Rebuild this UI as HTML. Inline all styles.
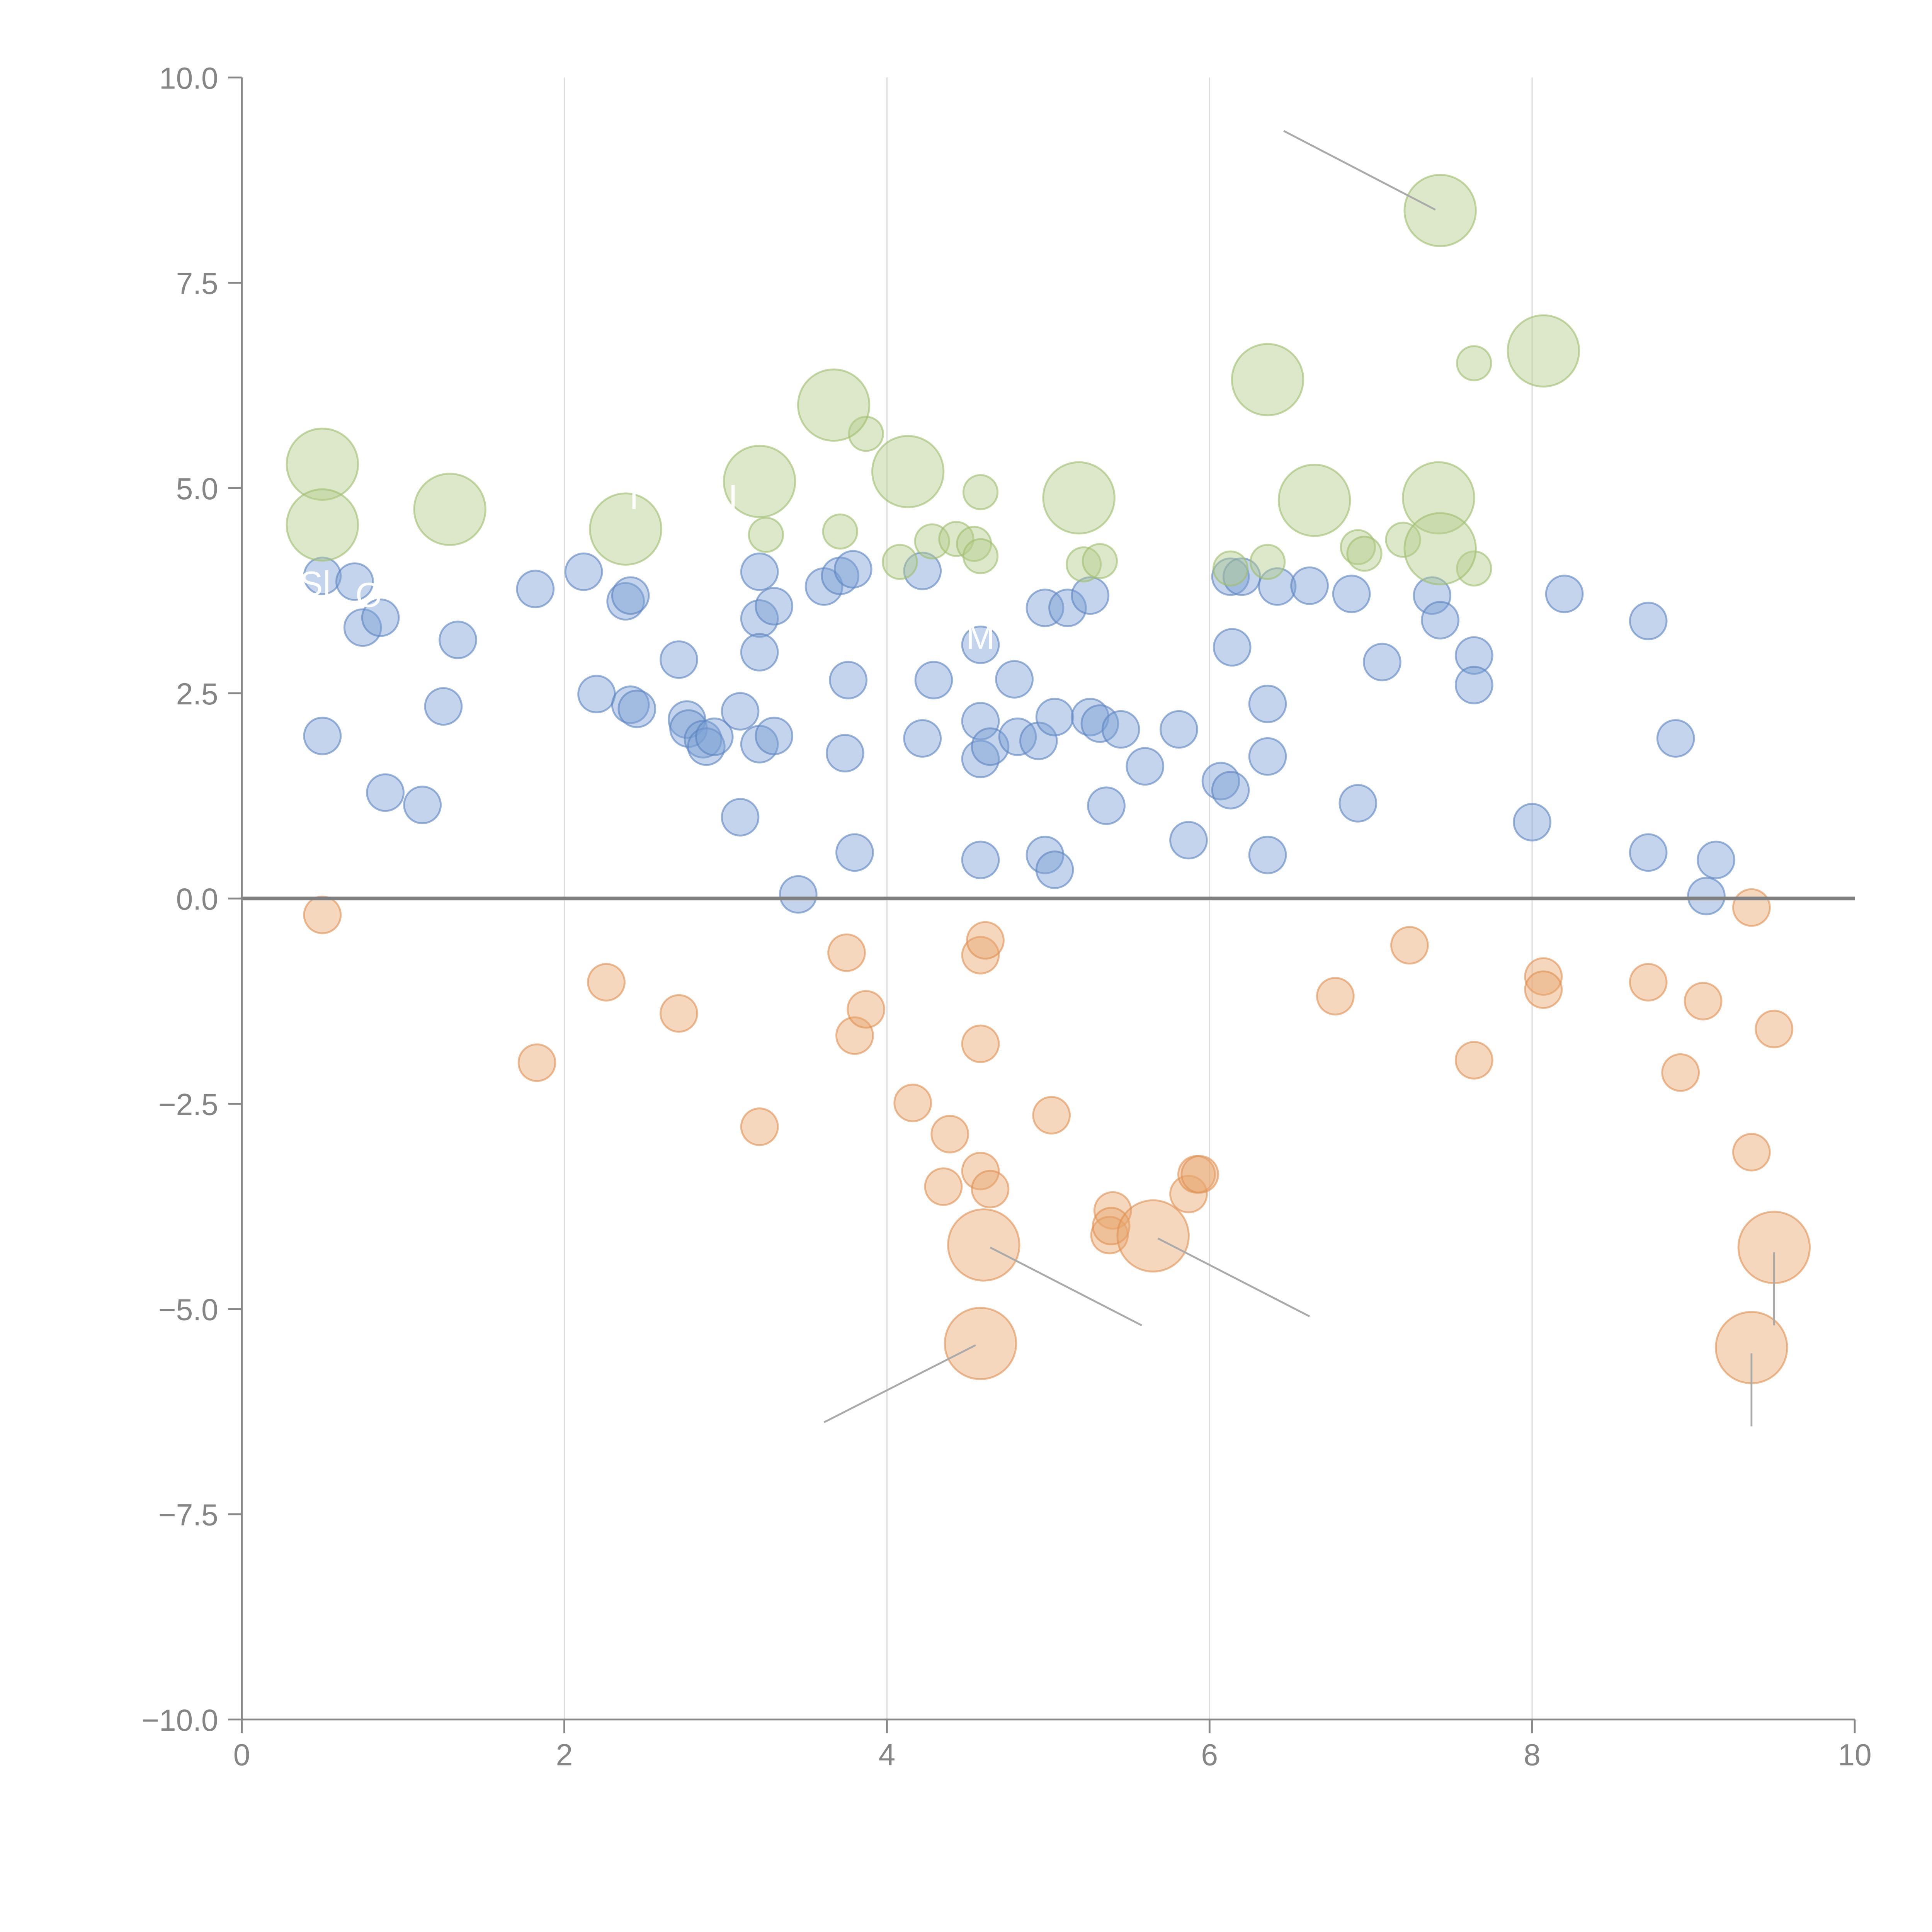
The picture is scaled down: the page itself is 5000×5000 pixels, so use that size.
<!DOCTYPE html>
<html><head><meta charset="utf-8"><style>html,body{margin:0;padding:0;background:#fff}svg{display:block}</style></head>
<body>
<svg id="chart" xmlns="http://www.w3.org/2000/svg" width="5000" height="5000" viewBox="0 0 1560 1560" font-family="Liberation Sans, Arial, sans-serif">
<g id="grid"></g>
<g id="marks"></g>
<g id="axes"></g>
</svg>
<script>
const xTicks=[0,2,4,6,8,10];
const yTicks=[-10,-7.5,-5,-2.5,0,2.5,5,7.5,10];
const blueX=[0.50,0.70,0.75,0.86,0.50,0.89,1.12,1.25,1.34,1.82,2.12,2.20,2.38,2.41,2.41,2.45,2.71,2.76,2.77,2.86,2.88,2.93,3.09,3.09,3.21,3.21,3.21,3.21,3.30,3.30,3.45,3.61,3.71,3.74,3.76,3.79,3.80,4.22,4.22,4.29,4.58,4.58,4.58,4.58,4.64,4.79,4.81,4.94,4.98,4.98,5.04,5.04,5.12,5.26,5.26,5.32,5.36,5.45,5.60,5.81,5.87,6.07,6.13,6.13,6.14,6.20,6.36,6.36,6.36,6.42,6.62,6.88,6.92,7.07,7.38,7.43,7.64,7.64,8.00,8.20,8.72,8.72,8.89,9.08,9.14];
const blueY=[3.93,3.86,3.30,3.42,1.98,1.29,1.14,2.34,3.15,3.77,3.98,2.49,3.62,3.69,2.36,2.31,2.91,2.18,2.07,1.94,1.85,1.97,2.28,0.99,3.98,3.41,3.00,1.88,3.56,1.98,0.05,3.80,3.93,1.77,2.66,4.01,0.56,3.99,1.95,2.66,3.09,2.16,1.70,0.47,1.85,2.67,1.97,1.92,3.54,0.53,0.35,2.21,3.54,3.69,2.21,2.13,1.13,2.06,1.61,2.06,0.71,1.43,1.32,3.92,3.06,3.92,2.37,1.73,0.53,3.80,3.81,3.71,1.16,2.88,3.69,3.39,2.96,2.60,0.93,3.71,3.38,0.56,1.95,0.03,0.47];
const orangeX=[0.50,1.83,2.26,2.71,3.21,3.75,3.80,3.87,4.16,4.35,4.39,4.58,4.61,4.58,4.58,4.64,5.02,5.40,5.38,5.39,5.87,5.92,5.94,6.78,7.24,7.64,8.07,8.07,8.72,8.92,9.06,9.36,9.36,9.50,4.60,4.58,5.65,9.50,9.36];
const orangeY=[-0.20,-2.00,-1.02,-1.40,-2.78,-0.66,-1.67,-1.35,-2.49,-3.51,-2.87,-0.69,-0.51,-1.77,-3.32,-3.54,-2.64,-3.80,-4.10,-3.99,-3.60,-3.36,-3.36,-1.19,-0.57,-1.97,-0.95,-1.11,-1.02,-2.12,-1.25,-0.11,-3.09,-1.59,-4.22,-5.42,-4.11,-4.25,-5.47];
const orangeSize=[1,1,1,1,1,1,1,1,1,1,1,1,1,1,1,1,1,1,1,1,1,1,1,1,1,1,1,1,1,1,1,1,1,1,2,2,2,2,2];
const greenX=[3.25,3.71,3.87,4.08,4.28,4.43,4.54,4.58,4.58,5.22,5.32,6.13,6.36,6.92,6.96,7.20,7.64,7.64,0.50,0.50,1.29,2.38,3.21,3.67,4.13,5.19,6.36,6.65,7.42,7.43,7.43,8.07];
const greenY=[4.43,4.47,5.66,4.10,4.35,4.38,4.32,4.95,4.17,4.07,4.11,4.02,4.10,4.28,4.20,4.37,6.52,4.02,5.29,4.55,4.74,4.50,5.08,6.01,5.20,4.88,6.32,4.85,4.88,4.26,8.38,6.67];
const greenSize=[1,1,1,1,1,1,1,1,1,1,1,1,1,1,1,1,1,1,2,2,2,2,2,2,2,2,2,2,2,2,2,2];
const leaderX1=[6.46,4.64,5.68,4.55,9.50,9.36];
const leaderY1=[9.35,-4.25,-4.14,-5.44,-4.31,-5.54];
const leaderX2=[7.40,5.58,6.62,3.61,9.50,9.36];
const leaderY2=[8.39,-5.20,-5.09,-6.38,-5.20,-6.43];

const X0=195.2,X1=1497.6,YT=62.6,YB=1388.4;
const sx=v=>X0+(v-0)/(10-0)*(X1-X0);
const sy=v=>YB-(v+10)/20*(YB-YT);
const NS='http://www.w3.org/2000/svg';
function mk(tag,attrs,parent){const e=document.createElementNS(NS,tag);for(const k in attrs)e.setAttribute(k,attrs[k]);parent.appendChild(e);return e;}
const grid=document.getElementById('grid'),marks=document.getElementById('marks'),axes=document.getElementById('axes');

xTicks.forEach(t=>{if(t>0&&t<10){const l=mk('line',{x1:sx(t),x2:sx(t),y1:YT,y2:YB,stroke:'#dddddd','stroke-width':1},grid);

}});

function series(xs,ys,sizes,fill,stroke,name){
  xs.forEach((x,i)=>{const r=sizes?(sizes[i]===2?28.8:(name==='green-point'?13.8:14.8)):14.8;
    const c=mk('circle',{cx:sx(x),cy:sy(ys[i]),r:r,fill:fill,'fill-opacity':0.45,stroke:stroke,'stroke-opacity':0.6,'stroke-width':1.5},marks);
    
    
  });
}
series(blueX,blueY,null,'#7b9fd4','#5b82c0','blue-point');
series(greenX,greenY,greenSize,'#b4cd8a','#9fbd6c','green-point');
series(orangeX,orangeY,orangeSize,'#e9a66e','#e09050','orange-point');

leaderX1.forEach((x,i)=>{const l=mk('line',{x1:sx(x),y1:sy(leaderY1[i]),x2:sx(leaderX2[i]),y2:sy(leaderY2[i]),stroke:'#aaaaaa','stroke-width':1.5},marks);

});

[['Sl',242,481],['O',287,490],['M',780,524],['I',508,411],['I',588,411]].forEach(d=>{const t=mk('text',{x:d[1],y:d[2],fill:'#ffffff','font-size':28},marks);t.textContent=d[0];

});

const z=mk('line',{x1:X0,x2:X1,y1:sy(0),y2:sy(0),stroke:'#808080','stroke-width':3},axes);


const ya=mk('line',{x1:X0,x2:X0,y1:YT,y2:YB,stroke:'#888888','stroke-width':1.5},axes);


const xa=mk('line',{x1:X0,x2:X1,y1:YB,y2:YB,stroke:'#888888','stroke-width':1.5},axes);


yTicks.forEach(t=>{const l=mk('line',{x1:X0-11,x2:X0,y1:sy(t),y2:sy(t),stroke:'#888888','stroke-width':1.5},axes);


const tx=mk('text',{x:X0-19,y:sy(t)+9,'text-anchor':'end',fill:'#858585','font-size':24.5},axes);tx.textContent=(t<0?'\u2212':'')+Math.abs(t).toFixed(1);

});
xTicks.forEach(t=>{const l=mk('line',{x1:sx(t),x2:sx(t),y1:YB,y2:YB+11,stroke:'#888888','stroke-width':1.5},axes);


const tx=mk('text',{x:sx(t),y:YB+37,'text-anchor':'middle',fill:'#858585','font-size':24.5},axes);tx.textContent=String(t);

});
</script>
</body></html>
